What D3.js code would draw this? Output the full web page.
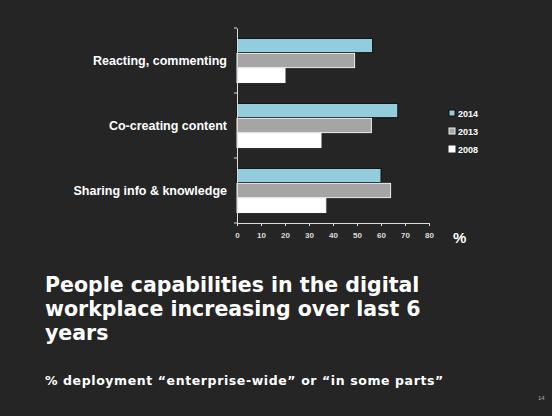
<!DOCTYPE html><html><head><script src="https://cdn.jsdelivr.net/npm/d3@7"></script>
<style>body{margin:0;background:#252525}</style></head><body><script>
const categories=["Reacting, commenting","Co-creating content","Sharing info & knowledge"];
const seriesNames=["2014","2013","2008"];
const v2014=[56.5,67,60];
const v2013=[49,56,64];
const v2008=[20,35,37];
const ticks=[0,10,20,30,40,50,60,70,80];
const colors=["#93CDDD","#A5A5A5","#FFFFFF"];
const strokes=["#111","#eee","#fff"];
const vals=[v2014,v2013,v2008];
const svg=d3.select("body").append("svg").attr("width",552).attr("height",416).style("background","#252525");
const x=d3.scaleLinear().domain([0,80]).range([237,429]);
const y=d3.scaleBand().domain(categories).range([28,223]);
const inner=d3.scaleBand().domain(seriesNames).range([0,y.bandwidth()]).paddingInner(0.05).paddingOuter(0.7);
categories.forEach((c,i)=>{seriesNames.forEach((s,j)=>{
 svg.append("rect").attr("x",x(0)).attr("y",y(c)+inner(s)).attr("width",x(vals[j][i])-x(0)).attr("height",inner.bandwidth())
 .attr("fill",colors[j]).attr("stroke",strokes[j]).attr("stroke-width",1);});
 svg.append("text").attr("x",227).attr("y",y(c)+y.bandwidth()/2+4).attr("text-anchor","end").attr("fill","#fff")
 .attr("font-family","Liberation Sans, Arial").attr("font-weight","bold").attr("font-size",12.5).text(c);});
const ax=svg.append("g").attr("transform","translate(0,223)").call(d3.axisBottom(x).tickValues(ticks).tickSize(3).tickPadding(6));
ax.selectAll("path,line").attr("stroke","#ddd");
ax.selectAll("text").attr("fill","#ddd").attr("font-family","Liberation Sans, Arial").attr("font-weight","bold").attr("font-size",8);
const ay=svg.append("g").attr("transform","translate(237,0)").call(d3.axisLeft(y).tickSize(0).tickFormat(""));
ay.select("path").attr("stroke","#ddd");
[28,93,158,223].forEach(t=>svg.append("line").attr("x1",234).attr("x2",237).attr("y1",t).attr("y2",t).attr("stroke","#ddd"));
svg.append("text").attr("x",453).attr("y",243).attr("fill","#fff").attr("font-family","Liberation Sans, Arial").attr("font-weight","bold").attr("font-size",15).text("%");
seriesNames.forEach((s,j)=>{const yy=117+j*18;
 svg.append("rect").attr("x",449).attr("y",yy-7).attr("width",6).attr("height",6).attr("fill",colors[j]).attr("stroke",strokes[j]);
 svg.append("text").attr("x",458).attr("y",yy).attr("fill","#fff").attr("font-family","Liberation Sans, Arial").attr("font-weight","bold").attr("font-size",9).text(s);});
const t=svg.append("text").attr("fill","#fff").attr("font-family","DejaVu Sans, Verdana").attr("font-weight","bold").attr("font-size",20.5);
["People capabilities in the digital","workplace increasing over last 6","years"].forEach((l,i)=>t.append("tspan").attr("x",45).attr("y",292+i*24).text(l));
svg.append("text").attr("x",45).attr("y",385).attr("fill","#fff").attr("font-family","DejaVu Sans, Verdana").attr("font-weight","bold").attr("font-size",12.5).attr("letter-spacing",0.6).text("% deployment “enterprise-wide” or “in some parts”");
svg.append("text").attr("x",538).attr("y",400).attr("fill","#aaa").attr("font-family","Liberation Sans, Arial").attr("font-size",6).text("14");
</script></body></html>
